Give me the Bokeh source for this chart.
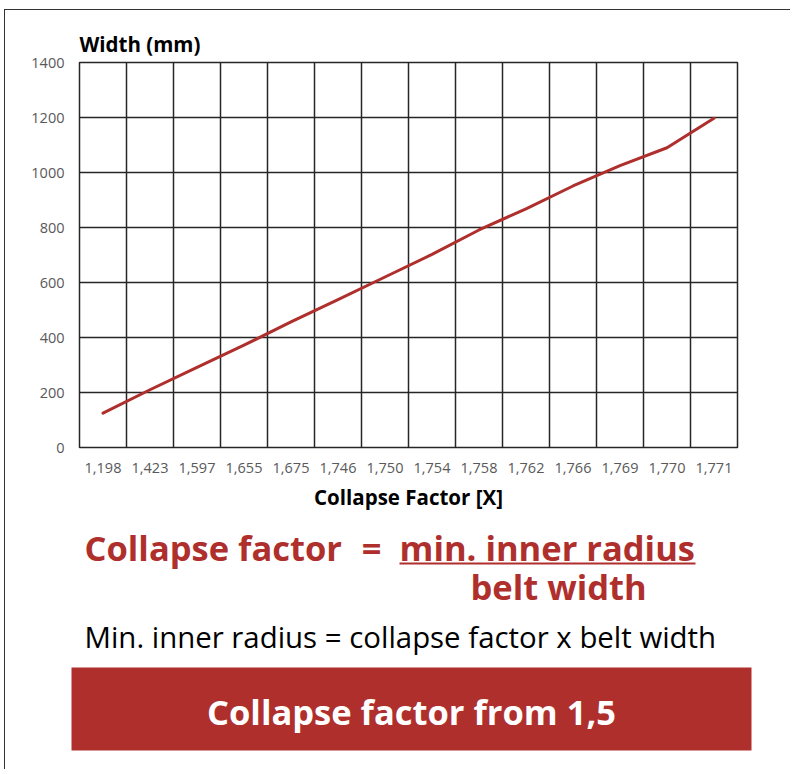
from bokeh.plotting import figure
from bokeh.models import FactorRange, Range1d, FixedTicker
from bokeh.core.properties import value
from bokeh.embed import file_html
from bokeh.resources import INLINE

# ---- data ----
categories = ["1,198", "1,423", "1,597", "1,655", "1,675", "1,746", "1,750",
              "1,754", "1,758", "1,762", "1,766", "1,769", "1,770", "1,771"]
widths = [125, 210, 291, 372, 457, 538, 620, 702, 791, 868, 951, 1025, 1090, 1197]
y_ticks = [0, 200, 400, 600, 800, 1000, 1200, 1400]
boundaries = list(range(len(categories) + 1))

RED = "#AF2F2D"
GRID = "#262626"
BORDER = "1px solid #333333"
FONT = "Open Sans"

# ---- chart ----
p1 = figure(width=786, height=509, output_backend="svg", toolbar_location=None,
            x_range=FactorRange(factors=categories, range_padding=0, factor_padding=0),
            y_range=Range1d(0, 1400),
            min_border_left=74, min_border_right=54, min_border_top=52, min_border_bottom=72,
            background_fill_color="white", border_fill_color="white",
            styles={"margin-left": "4px", "margin-top": "9px",
                    "border-left": BORDER, "border-top": BORDER})

p1.line(x=categories, y=widths, line_color=RED, line_width=3, line_cap="round", line_join="round")

p1.title.text = "Width (mm)"
p1.title.align = "left"
p1.title.text_font = FONT
p1.title.text_font_size = "20.5px"
p1.title.text_font_style = "bold"
p1.title.text_color = "black"

p1.outline_line_color = GRID
p1.outline_line_width = 1.5

p1.xgrid.ticker = FixedTicker(ticks=boundaries)
p1.ygrid.ticker = FixedTicker(ticks=y_ticks)
for g in (p1.xgrid, p1.ygrid):
    g.grid_line_color = GRID
    g.grid_line_width = 1.5
    g.grid_line_alpha = 1.0

p1.yaxis.ticker = FixedTicker(ticks=y_ticks)
for ax in (p1.xaxis, p1.yaxis):
    ax.axis_line_color = None
    ax.major_tick_line_color = None
    ax.minor_tick_line_color = None
    ax.major_tick_out = 0
    ax.major_tick_in = 0
    ax.major_label_text_font = FONT
    ax.major_label_text_font_size = "14.5px"
    ax.major_label_text_color = "#595959"
p1.yaxis.major_label_standoff = 15
p1.xaxis.major_label_standoff = 15
p1.xaxis.axis_label = "Collapse Factor [X]"
p1.xaxis.axis_label_text_font = FONT
p1.xaxis.axis_label_text_font_size = "20.5px"
p1.xaxis.axis_label_text_font_style = "bold"
p1.xaxis.axis_label_text_color = "black"
p1.xaxis.axis_label_standoff = 7

# ---- text panel (data coordinates = page pixels) ----
p2 = figure(width=786, height=251, output_backend="svg", toolbar_location=None,
            x_range=Range1d(5, 791), y_range=Range1d(770, 519),
            min_border=0, min_border_left=0, min_border_right=0,
            min_border_top=0, min_border_bottom=0,
            background_fill_color="white", border_fill_color="white",
            styles={"margin-left": "4px", "border-left": BORDER})
p2.axis.visible = False
p2.grid.visible = False
p2.outline_line_color = None

BIG = "34.5px"
p2.text(x=[84], y=[548], text=["Collapse factor"], text_font=value(FONT),
        text_font_size=BIG, text_font_style="bold", text_color=RED,
        text_baseline="alphabetic", text_align="left")
p2.text(x=[371], y=[548], text=["="], text_font=value(FONT),
        text_font_size=BIG, text_font_style="bold", text_color=RED,
        text_baseline="alphabetic", text_align="center")
p2.text(x=[399], y=[548], text=["min. inner radius"], text_font=value(FONT),
        text_font_size=BIG, text_font_style="bold", text_color=RED,
        text_baseline="alphabetic", text_align="left")
p2.segment(x0=[399], y0=[564], x1=[695], y1=[564], line_color=RED, line_width=2)
p2.text(x=[470], y=[587], text=["belt width"], text_font=value(FONT),
        text_font_size=BIG, text_font_style="bold", text_color=RED,
        text_baseline="alphabetic", text_align="left")
p2.text(x=[84], y=[637], text=["Min. inner radius = collapse factor x belt width"],
        text_font=value(FONT), text_font_size="29.4px", text_color="black",
        text_baseline="alphabetic", text_align="left")
p2.quad(left=[71], right=[751], top=[668], bottom=[751], fill_color=RED, line_color=None)
p2.text(x=[411], y=[712], text=["Collapse factor from 1,5"], text_font=value(FONT),
        text_font_size=BIG, text_font_style="bold", text_color="white",
        text_baseline="alphabetic", text_align="center")

open("out.html", "w").write(file_html([p1, p2], INLINE))
